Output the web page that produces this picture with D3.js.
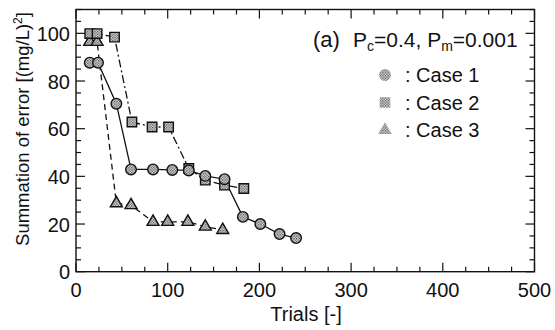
<!DOCTYPE html>
<html>
<head>
<meta charset="utf-8">
<script src="https://cdn.jsdelivr.net/npm/d3@7"></script>
<style>
  body { margin: 0; background: #fff; }
  text { font-family: "Liberation Sans", Arial, sans-serif; fill: #111; }
</style>
</head>
<body>
<svg id="Viz" width="555" height="330"></svg>
<script>
// data
var case1X = [15, 24, 44, 60, 84, 105, 123, 141, 162, 182, 201, 222, 240];
var case1Y = [87.7, 87.7, 70.5, 42.9, 42.9, 42.7, 42.5, 40.2, 38.8, 23, 20, 15.8, 14.1];
var case2X = [15, 23, 42, 61, 83, 101, 123, 141, 162, 183];
var case2Y = [99.9, 99.9, 98.4, 62.8, 60.7, 60.7, 43.3, 38.4, 36.3, 34.9];
var case3X = [15, 23, 44, 60, 84, 100, 122, 141, 160];
var case3Y = [96.4, 96.4, 28.7, 27.9, 20.9, 20.9, 20.9, 18.9, 17.5];
var xTicks = [0, 100, 200, 300, 400, 500];
var yTicks = [0, 20, 40, 60, 80, 100];
var legendNames = ["Case 1", "Case 2", "Case 3"];

var svg = d3.select("#Viz"),
    width = +svg.attr("width"),
    height = +svg.attr("height");

var pLeft = 76, pRight = 534.5, pTop = 9.5, pBottom = 271.7;

var x = d3.scaleLinear().domain([0, 500]).range([pLeft, pRight]);
var y = d3.scaleLinear().domain([0, 110]).range([pBottom, pTop]);

// halftone fill for markers
var defs = svg.append("defs");
var pat = defs.append("pattern").attr("id", "dots")
  .attr("width", 2.6).attr("height", 2.6).attr("patternUnits", "userSpaceOnUse");
pat.append("rect").attr("width", 2.6).attr("height", 2.6).attr("fill", "#ececec");
pat.append("rect").attr("width", 1.3).attr("height", 1.3).attr("fill", "#444");
pat.append("rect").attr("x", 1.3).attr("y", 1.3).attr("width", 1.3).attr("height", 1.3).attr("fill", "#666");

// frame
svg.append("rect")
  .attr("x", pLeft).attr("y", pTop)
  .attr("width", pRight - pLeft).attr("height", pBottom - pTop)
  .attr("fill", "none").attr("stroke", "#111").attr("stroke-width", 1.4);

// inward ticks on all four sides
var g = svg.append("g").attr("stroke", "#111").attr("stroke-width", 1.2);
d3.range(0, 501, 25).forEach(function(v) {
  var len = v % 100 == 0 ? 9 : 5;
  g.append("line").attr("x1", x(v)).attr("x2", x(v)).attr("y1", pBottom).attr("y2", pBottom - len);
  g.append("line").attr("x1", x(v)).attr("x2", x(v)).attr("y1", pTop).attr("y2", pTop + len);
});
d3.range(0, 111, 5).forEach(function(v) {
  var len = v % 20 == 0 ? 9 : 5;
  g.append("line").attr("y1", y(v)).attr("y2", y(v)).attr("x1", pLeft).attr("x2", pLeft + len);
  g.append("line").attr("y1", y(v)).attr("y2", y(v)).attr("x1", pRight).attr("x2", pRight - len);
});

// tick labels
svg.append("g").selectAll("text").data(xTicks).enter().append("text")
  .attr("x", function(d) { return x(d); })
  .attr("y", 297)
  .attr("text-anchor", "middle")
  .attr("font-size", 20)
  .text(function(d) { return d; });

svg.append("g").selectAll("text").data(yTicks).enter().append("text")
  .attr("x", 70)
  .attr("y", function(d) { return y(d) + 7.5; })
  .attr("text-anchor", "end")
  .attr("font-size", 20)
  .text(function(d) { return d; });

// axis titles
svg.append("text")
  .attr("x", 306).attr("y", 321)
  .attr("text-anchor", "middle").attr("font-size", 20)
  .text("Trials [-]");

var yl = svg.append("text")
  .attr("transform", "translate(29,129) rotate(-90)")
  .attr("text-anchor", "middle").attr("font-size", 18.5);
yl.append("tspan").text("Summation of error [(mg/L)");
yl.append("tspan").attr("font-size", 12).attr("dy", -7).text("2");
yl.append("tspan").attr("dy", 7).text("]");

// lines
function pts(xs, ys) { return xs.map(function(v, i) { return [v, ys[i]]; }); }
var line = d3.line()
  .x(function(d) { return x(d[0]); })
  .y(function(d) { return y(d[1]); })
  .curve(d3.curveLinear);

var series = [
  { p: pts(case1X, case1Y), dash: null, shape: d3.symbolCircle, size: 88 },
  { p: pts(case2X, case2Y), dash: "8,3,2,3", shape: d3.symbolSquare, size: 90 },
  { p: pts(case3X, case3Y), dash: "6,4", shape: d3.symbolTriangle, size: 62 }
];

series.forEach(function(s) {
  svg.append("path")
    .attr("d", line(s.p))
    .attr("fill", "none")
    .attr("stroke", "#111")
    .attr("stroke-width", 1.3)
    .attr("stroke-dasharray", s.dash);
});

// markers, case 1 drawn last so circles sit on top
[2, 1, 0].forEach(function(k) {
  var s = series[k];
  svg.append("g").selectAll("path").data(s.p).enter().append("path")
    .attr("transform", function(d) { return "translate(" + x(d[0]) + "," + y(d[1]) + ")"; })
    .attr("d", d3.symbol().type(s.shape).size(s.size))
    .attr("fill", "url(#dots)")
    .attr("stroke", "#111")
    .attr("stroke-width", 1.4);
});

// legend
svg.append("text").attr("x", 313).attr("y", 47).attr("font-size", 22).text("(a)");
var pt = svg.append("text").attr("x", 353).attr("y", 47).attr("font-size", 21);
pt.append("tspan").text("P");
pt.append("tspan").attr("font-size", 14).attr("dy", 4).text("c");
pt.append("tspan").attr("dy", -4).text("=0.4, P");
pt.append("tspan").attr("font-size", 14).attr("dy", 4).text("m");
pt.append("tspan").attr("dy", -4).text("=0.001");

legendNames.forEach(function(name, i) {
  var cy = 75 + i * 27.5;
  svg.append("path")
    .attr("transform", "translate(385," + cy + ")")
    .attr("d", d3.symbol().type(series[i].shape).size(i == 2 ? 80 : 110))
    .attr("fill", "url(#dots)");
  svg.append("text")
    .attr("x", 405).attr("y", cy + 7)
    .attr("font-size", 20)
    .text(":  " + name);
});
</script>
</body>
</html>
